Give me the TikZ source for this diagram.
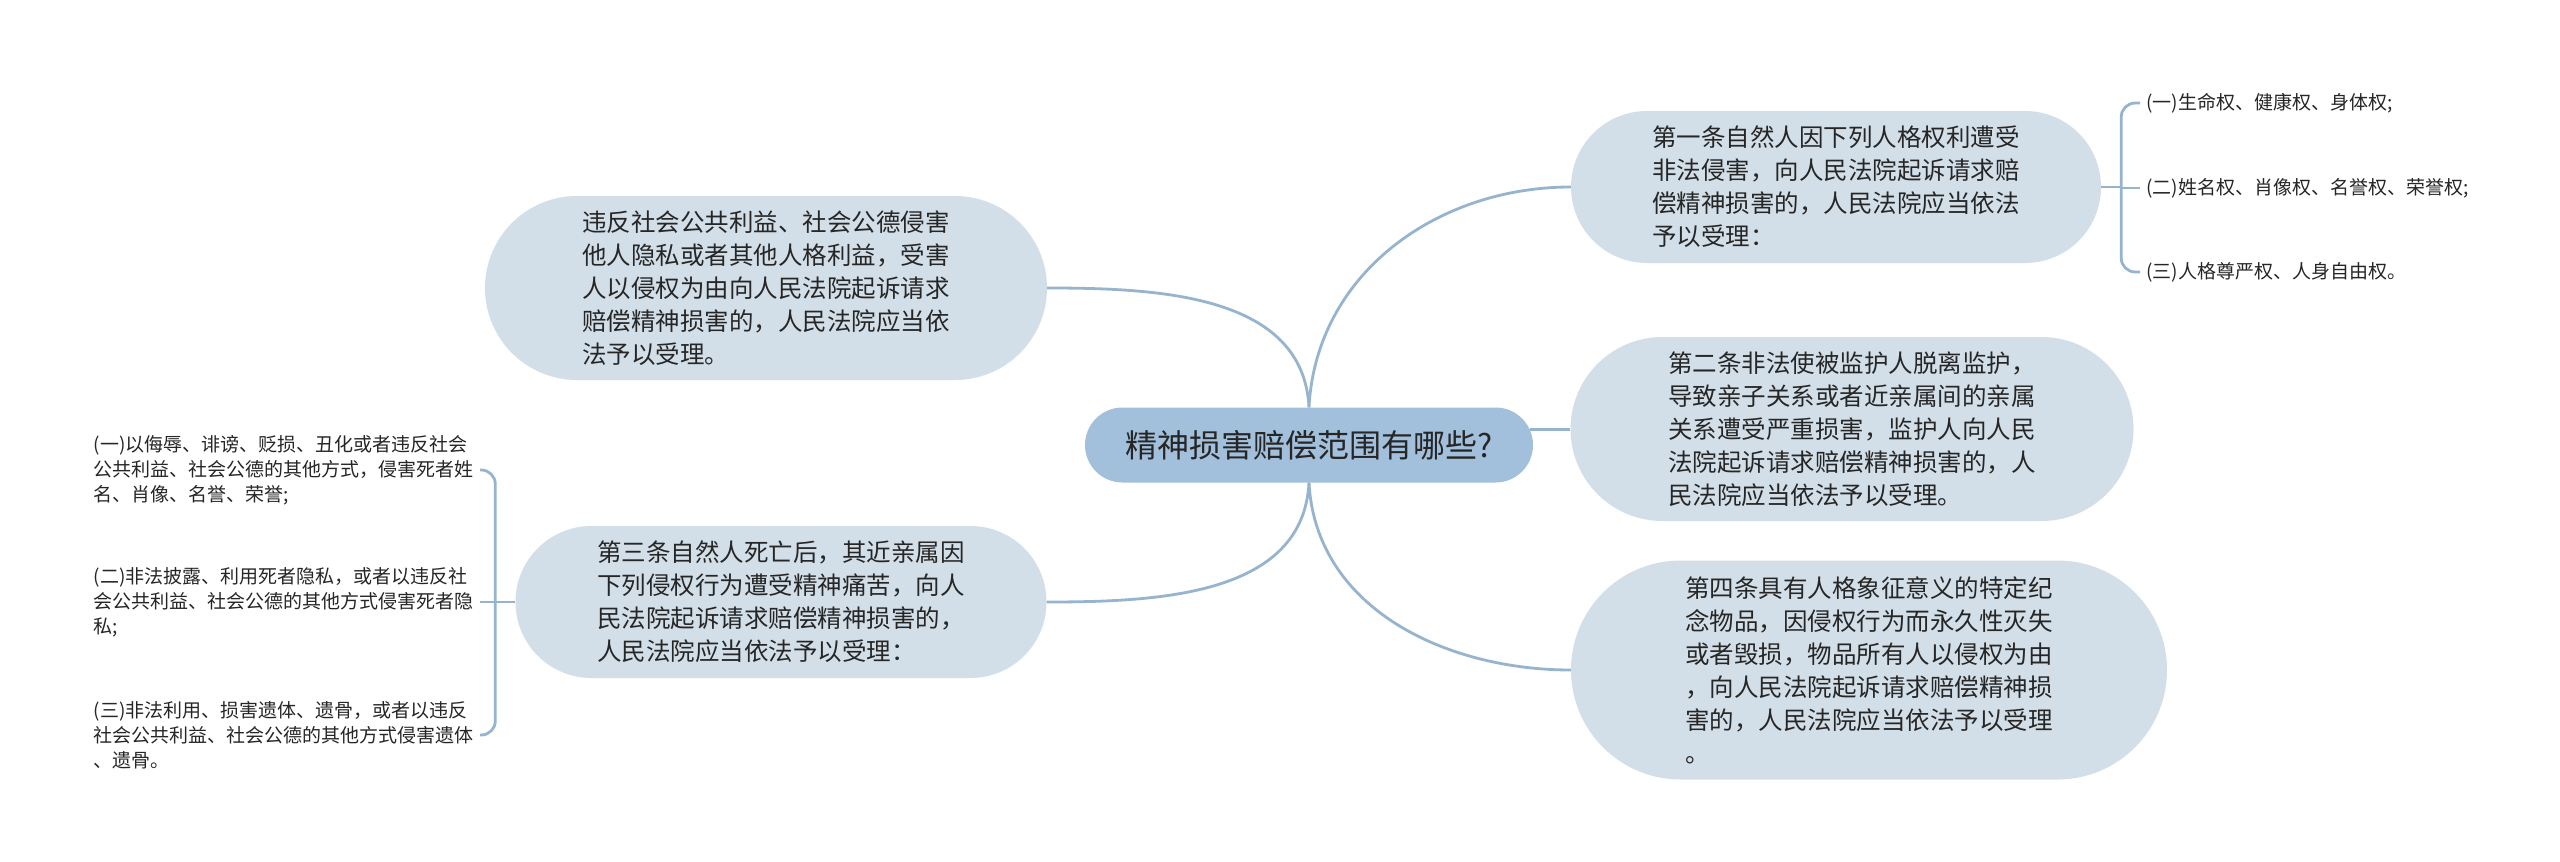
\documentclass[tikz,border=0pt]{standalone}
\usepackage{fontspec}
\setmainfont{Noto Sans CJK SC}
\usepackage{xcolor}
\usetikzlibrary{shapes.misc}
\definecolor{rootblue}{RGB}{162,191,219}
\definecolor{subblue}{RGB}{211,223,232}
\definecolor{linkblue}{RGB}{151,180,207}
\definecolor{ink}{RGB}{38,38,38}
\begin{document}
\begin{tikzpicture}[x=1pt, y=-1pt, text=ink,
  pill/.style={rounded rectangle, align=left, inner sep=0pt},
  root/.style={pill, fill=rootblue, font=\fontsize{32}{38}\selectfont},
  sub/.style={pill, fill=subblue, font=\fontsize{24.5}{33}\selectfont},
  leaf/.style={align=left, inner sep=6pt, font=\fontsize{19}{25}\selectfont},
  ln/.style={draw=linkblue, line width=2.8pt}]
\useasboundingbox[fill=white] (0,0) rectangle (2560,862);
% Central question.
\node[root, minimum width=448, minimum height=75] (topic) at (1309,445) {精神损害赔偿范围有哪些?};
% Left branch.
\node[sub, minimum width=562, minimum height=184] (privacy) at (766,288)
  {违反社会公共利益、社会公德侵害\\他人隐私或者其他人格利益，受害\\人以侵权为由向人民法院起诉请求\\赔偿精神损害的，人民法院应当依\\法予以受理。};
\node[sub, minimum width=531, minimum height=152] (deceased) at (781,602)
  {第三条自然人死亡后，其近亲属因\\下列侵权行为遭受精神痛苦，向人\\民法院起诉请求赔偿精神损害的，\\人民法院应当依法予以受理：};
\node[leaf, anchor=east] (d1) at (480,470)
  {(一)以侮辱、诽谤、贬损、丑化或者违反社会\\公共利益、社会公德的其他方式，侵害死者姓\\名、肖像、名誉、荣誉;};
\node[leaf, anchor=east] (d2) at (480,602)
  {(二)非法披露、利用死者隐私，或者以违反社\\会公共利益、社会公德的其他方式侵害死者隐\\私;};
\node[leaf, anchor=east] (d3) at (480,735)
  {(三)非法利用、损害遗体、遗骨，或者以违反\\社会公共利益、社会公德的其他方式侵害遗体\\、遗骨。};
% Right branch.
\node[sub, minimum width=530, minimum height=152] (art1) at (1836,187)
  {第一条自然人因下列人格权利遭受\\非法侵害，向人民法院起诉请求赔\\偿精神损害的，人民法院应当依法\\予以受理：};
\node[sub, minimum width=563, minimum height=184] (art2) at (1852,429)
  {第二条非法使被监护人脱离监护，\\导致亲子关系或者近亲属间的亲属\\关系遭受严重损害，监护人向人民\\法院起诉请求赔偿精神损害的，人\\民法院应当依法予以受理。};
\node[sub, minimum width=596, minimum height=219] (art4) at (1869,670)
  {第四条具有人格象征意义的特定纪\\念物品，因侵权行为而永久性灭失\\或者毁损，物品所有人以侵权为由\\，向人民法院起诉请求赔偿精神损\\害的，人民法院应当依法予以受理\\。};
\node[leaf, anchor=west] (r1) at (2140,103) {(一)生命权、健康权、身体权;};
\node[leaf, anchor=west] (r2) at (2140,188) {(二)姓名权、肖像权、名誉权、荣誉权;};
\node[leaf, anchor=west] (r3) at (2140,272) {(三)人格尊严权、人身自由权。};
% Branches from the question.
\draw[ln] (topic.north) to[out=93, in=0] (privacy.east);
\draw[ln] (topic.south) to[out=-93, in=0] (deceased.east);
\draw[ln] (topic.north) to[out=87, in=180] (art1.west);
\draw[ln] (topic.4) -- (topic.4 -| art2.west);
\draw[ln] (topic.south) to[out=-87, in=180] (art4.west);
% Brackets to the listed items.
\coordinate (lb) at ([xshift=-20]deceased.west);
\draw[ln] (deceased.west) -- (lb);
\draw[ln, rounded corners=14] (lb) |- (d1.east);
\draw[ln] (lb) |- (d2.east);
\draw[ln, rounded corners=14] (lb) |- (d3.east);
\coordinate (rb) at ([xshift=20]art1.east);
\draw[ln] (art1.east) -- (rb);
\draw[ln, rounded corners=14] (rb) |- (r1.west);
\draw[ln] (rb) |- (r2.west);
\draw[ln, rounded corners=14] (rb) |- (r3.west);
\end{tikzpicture}
\end{document}
